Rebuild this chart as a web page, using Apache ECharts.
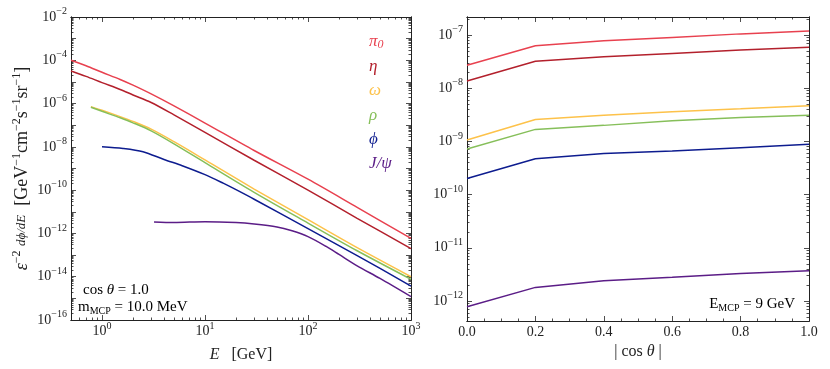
<!DOCTYPE html>
<html lang="en">
<head>
<meta charset="UTF-8">
<title>MCP flux</title>
<script src="https://cdn.jsdelivr.net/npm/echarts@6/dist/echarts.min.js"></script>
<style>
  html, body { margin: 0; padding: 0; background: #fff; }
  #main { width: 830px; height: 369px; }
</style>
</head>
<body>
<div id="main"></div>
<script>
var names = ['π0', 'η', 'ω', 'ρ', 'ϕ', 'J/ψ'];
var colors = ['#e8414f', '#b3202c', '#fdc24a', '#86bf5a', '#0d1c8f', '#5b1d87'];

// left panel: flux vs energy (GeV), cos(theta) = 1.0
var ePi0 = [0.5, 0.7, 1, 1.5, 2, 3, 5, 10, 30, 100, 300, 1000];
var fluxPi0 = [1.0e-4, 5.6e-5, 2.8e-5, 1.3e-5, 7.1e-6, 2.8e-6, 7.8e-7, 1.26e-7, 6.8e-9, 3.2e-10, 1.6e-11, 5.9e-13];
var eEta = [0.5, 0.7, 1, 1.5, 2, 3, 5, 10, 30, 100, 300, 1000];
var fluxEta = [3.2e-5, 1.8e-5, 9.3e-6, 4.5e-6, 2.5e-6, 1.12e-6, 3.0e-7, 4.7e-8, 2.4e-9, 1.0e-10, 5.0e-12, 2.0e-13];
var eOmega = [0.78, 1, 1.5, 2, 3, 5, 10, 30, 100, 300, 1000];
var fluxOmega = [7.2e-7, 4.9e-7, 2.5e-7, 1.5e-7, 6.6e-8, 1.74e-8, 2.5e-9, 1.12e-10, 4.3e-12, 2.2e-13, 1.0e-14];
var eRho = [0.78, 1, 1.5, 2, 3, 5, 10, 30, 100, 300, 1000];
var fluxRho = [6.8e-7, 4.4e-7, 2.2e-7, 1.29e-7, 5.5e-8, 1.38e-8, 1.86e-9, 7.9e-11, 3.0e-12, 1.58e-13, 7.6e-15];
var ePhi = [1, 1.6, 2.5, 4, 6, 10, 15, 20, 30, 100, 300, 1000];
var fluxPhi = [1.02e-8, 8.5e-9, 6.0e-9, 2.6e-9, 1.35e-9, 5.2e-10, 2.1e-10, 1.05e-10, 3.8e-11, 1.66e-12, 9.5e-14, 3.7e-15];
var ePsi = [3.2, 5, 10, 20, 30, 50, 70, 100, 150, 200, 300, 500, 1000];
var fluxPsi = [3.4e-12, 3.2e-12, 3.5e-12, 3.2e-12, 2.75e-12, 2.0e-12, 1.32e-12, 7.1e-13, 2.5e-13, 1.07e-13, 3.2e-14, 8.3e-15, 1.2e-15];

// right panel: flux vs |cos theta|, E_MCP = 9 GeV
var cosTheta = [0, 0.2, 0.4, 0.6, 0.8, 1.0];
var angPi0 = [2.7e-8, 6.3e-8, 7.8e-8, 9.0e-8, 1.05e-7, 1.19e-7];
var angEta = [1.36e-8, 3.2e-8, 3.9e-8, 4.5e-8, 5.25e-8, 5.9e-8];
var angOmega = [1.06e-9, 2.57e-9, 3.1e-9, 3.6e-9, 4.1e-9, 4.7e-9];
var angRho = [7.2e-10, 1.68e-9, 2.0e-9, 2.45e-9, 2.8e-9, 3.1e-9];
var angPhi = [2.0e-10, 4.7e-10, 5.9e-10, 6.6e-10, 7.6e-10, 8.8e-10];
var angPsi = [7.8e-13, 1.8e-12, 2.4e-12, 2.8e-12, 3.3e-12, 3.7e-12];

// axis ranges (E and flux ranges as plotted)
var eRange = [0.5, 1000];
var fluxRangeL = [1e-16, 1e-2];
var cosRange = [0, 1];
var fluxRangeR = [4.2e-13, 2.18e-7];
var cosTicks = [0, 0.2, 0.4, 0.6, 0.8, 1.0];

var FONT = 'Liberation Serif';
var INK = '#222';
var log = Math.log10;

var chart = echarts.init(document.getElementById('main'));

function decades(lo, hi) {
    var out = [];
    for (var n = Math.ceil(lo - 1e-9); n <= hi + 1e-9; n++) out.push(n);
    return out;
}
function logMinor(lo, hi) {
    var out = [];
    for (var n = Math.floor(lo); n <= Math.ceil(hi); n++) {
        for (var k = 2; k <= 9; k++) {
            var v = n + log(k);
            if (v > lo && v < hi) out.push(v);
        }
    }
    return out;
}

var powRich = {
    b: { fontFamily: FONT, fontSize: 14, color: INK, lineHeight: 15 },
    s: { fontFamily: FONT, fontSize: 10, color: INK, lineHeight: 12, padding: [0, 0, 11, 0] }
};
function powLabel(v) {
    var e = Math.round(v);
    return '{b|10}{s|' + (e < 0 ? '\u2212' : '') + Math.abs(e) + '}';
}

// one axis: frame side with ticks; labels optional
function makeAxis(grid, pos, range, ticks, len, labels, fmt, margin) {
    var ax = {
        type: 'value', gridIndex: grid, position: pos,
        min: range[0], max: range[1],
        splitLine: { show: false },
        axisLine: { show: true, onZero: false, lineStyle: { color: INK, width: 1 } },
        axisTick: { show: true, inside: true, length: len, customValues: ticks, lineStyle: { color: INK, width: 0.8 } },
        axisLabel: { show: false }
    };
    if (labels) {
        ax.axisLabel = {
            show: true, customValues: labels, formatter: fmt, margin: margin,
            fontFamily: FONT, fontSize: 14, color: INK, rich: powRich
        };
    }
    return ax;
}

var lxR = [log(eRange[0]), log(eRange[1])];
var lyR = [log(fluxRangeL[0]), log(fluxRangeL[1])];
var ryR = [log(fluxRangeR[0]), log(fluxRangeR[1])];

var lxMajor = decades(lxR[0], lxR[1]);
var lxMinor = logMinor(lxR[0], lxR[1]);
var lyMajor = decades(lyR[0], lyR[1]);
var lyLabels = lyMajor.filter(function (v) { return v % 2 === 0; });
var lyMinor = logMinor(lyR[0], lyR[1]);
var ryMajor = decades(ryR[0], ryR[1]);
var ryMinor = logMinor(ryR[0], ryR[1]);
var rxMinor = [];
for (var i = 1; i < 20; i++) if (i % 4 !== 0) rxMinor.push(i * 0.05);

var xAxes = [
    makeAxis(0, 'bottom', lxR, lxMajor, 5, lxMajor, powLabel, 4),
    makeAxis(0, 'bottom', lxR, lxMinor, 2.5),
    makeAxis(0, 'top', lxR, lxMajor, 5),
    makeAxis(0, 'top', lxR, lxMinor, 2.5),
    makeAxis(1, 'bottom', cosRange, cosTicks, 5, cosTicks, function (v) { return v.toFixed(1); }, 4),
    makeAxis(1, 'bottom', cosRange, rxMinor, 2.5),
    makeAxis(1, 'top', cosRange, cosTicks, 5),
    makeAxis(1, 'top', cosRange, rxMinor, 2.5)
];
var yAxes = [
    makeAxis(0, 'left', lyR, lyMajor, 5, lyLabels, powLabel, 4),
    makeAxis(0, 'left', lyR, lyMinor, 2.5),
    makeAxis(0, 'right', lyR, lyMajor, 5),
    makeAxis(0, 'right', lyR, lyMinor, 2.5),
    makeAxis(1, 'left', ryR, ryMajor, 5, ryMajor, powLabel, 4),
    makeAxis(1, 'left', ryR, ryMinor, 2.5),
    makeAxis(1, 'right', ryR, ryMajor, 5),
    makeAxis(1, 'right', ryR, ryMinor, 2.5)
];

var axisNameStyle = { fontFamily: FONT, fontSize: 16, color: INK,
    rich: { i: { fontFamily: FONT, fontSize: 16, fontStyle: 'italic', color: INK } } };
xAxes[0].name = '{i|E}   [GeV]';
xAxes[0].nameLocation = 'middle';
xAxes[0].nameGap = 13;
xAxes[0].nameTextStyle = axisNameStyle;

xAxes[4].name = '| cos {i|θ} |';
xAxes[4].nameLocation = 'middle';
xAxes[4].nameGap = 14;
xAxes[4].nameTextStyle = axisNameStyle;

var nameRich = {
    i: { fontFamily: FONT, fontSize: 18, fontStyle: 'italic', color: INK, lineHeight: 19 },
    f: { fontFamily: FONT, fontSize: 13, fontStyle: 'italic', color: INK, lineHeight: 19 },
    t: { fontFamily: FONT, fontSize: 18, color: INK, lineHeight: 19 },
    s: { fontFamily: FONT, fontSize: 12, color: INK, lineHeight: 13, padding: [0, 0, 11, 0] }
};
yAxes[0].name = '{i|ε}{s|\u22122}{t| }{f|dϕ/dE}{t|  [GeV}{s|\u22121}{t|cm}{s|\u22122}{t|s}{s|\u22121}{t|sr}{s|\u22121}{t|]}';
yAxes[0].nameLocation = 'middle';
yAxes[0].nameRotate = 90;
yAxes[0].nameGap = 35;
yAxes[0].nameTextStyle = { fontFamily: FONT, fontSize: 18, color: INK, rich: nameRich };

function spectrum(k, xs, ys) {
    return {
        type: 'line', name: names[k], xAxisIndex: 0, yAxisIndex: 0,
        data: xs.map(function (x, j) { return [log(x), log(ys[j])]; }),
        showSymbol: false, smooth: 0.3, silent: true,
        lineStyle: { color: colors[k], width: 1.5 }, itemStyle: { color: colors[k] }
    };
}
function angular(k, ys) {
    return {
        type: 'line', name: names[k], xAxisIndex: 4, yAxisIndex: 4,
        data: cosTheta.map(function (c, j) { return [c, log(ys[j])]; }),
        showSymbol: false, silent: true,
        lineStyle: { color: colors[k], width: 1.5 }, itemStyle: { color: colors[k] }
    };
}

var series = [
    spectrum(0, ePi0, fluxPi0), spectrum(1, eEta, fluxEta), spectrum(2, eOmega, fluxOmega),
    spectrum(3, eRho, fluxRho), spectrum(4, ePhi, fluxPhi), spectrum(5, ePsi, fluxPsi),
    angular(0, angPi0), angular(1, angEta), angular(2, angOmega),
    angular(3, angRho), angular(4, angPhi), angular(5, angPsi)
];

var legendRich = {
    m: { fontFamily: FONT, fontSize: 17, fontStyle: 'italic', lineHeight: 18 },
    sub: { fontFamily: FONT, fontSize: 12, lineHeight: 12, padding: [6, 0, 0, 0] }
};

var txtRich = {
    r: { fontFamily: FONT, fontSize: 15, color: INK, lineHeight: 16 },
    i: { fontFamily: FONT, fontSize: 15, fontStyle: 'italic', color: INK, lineHeight: 16 },
    sub: { fontFamily: FONT, fontSize: 10, color: INK, lineHeight: 12, padding: [7, 0, 0, 0] }
};

chart.setOption({
    animation: false,
    backgroundColor: '#fff',
    grid: [
        { left: 71, top: 17, width: 340, height: 303, containLabel: false },
        { left: 467, top: 17, width: 342, height: 304, containLabel: false }
    ],
    xAxis: xAxes,
    yAxis: yAxes,
    legend: {
        orient: 'vertical', left: 359, top: 28, itemGap: 6.7,
        itemWidth: 0, itemHeight: 18, icon: 'none', selectedMode: false,
        data: names.map(function (n, k) { return { name: n, textStyle: { color: colors[k] } }; }),
        formatter: function (n) {
            if (n === 'π0') return '{m|π}{sub|0}';
            return '{m|' + n + '}';
        },
        textStyle: { fontFamily: FONT, fontSize: 17, fontStyle: 'italic', rich: legendRich }
    },
    graphic: [
        { type: 'text', left: 83, top: 283, silent: true,
          style: { text: '{r|cos }{i|θ}{r| = 1.0}', rich: txtRich, font: '15px ' + FONT } },
        { type: 'text', left: 78, top: 299, silent: true,
          style: { text: '{r|m}{sub|MCP}{r| = 10.0 MeV}', rich: txtRich, font: '15px ' + FONT } },
        { type: 'text', right: 35, top: 296, silent: true,
          style: { text: '{r|E}{sub|MCP}{r| = 9 GeV}', rich: txtRich, font: '15px ' + FONT } }
    ],
    series: series
});
</script>
</body>
</html>
